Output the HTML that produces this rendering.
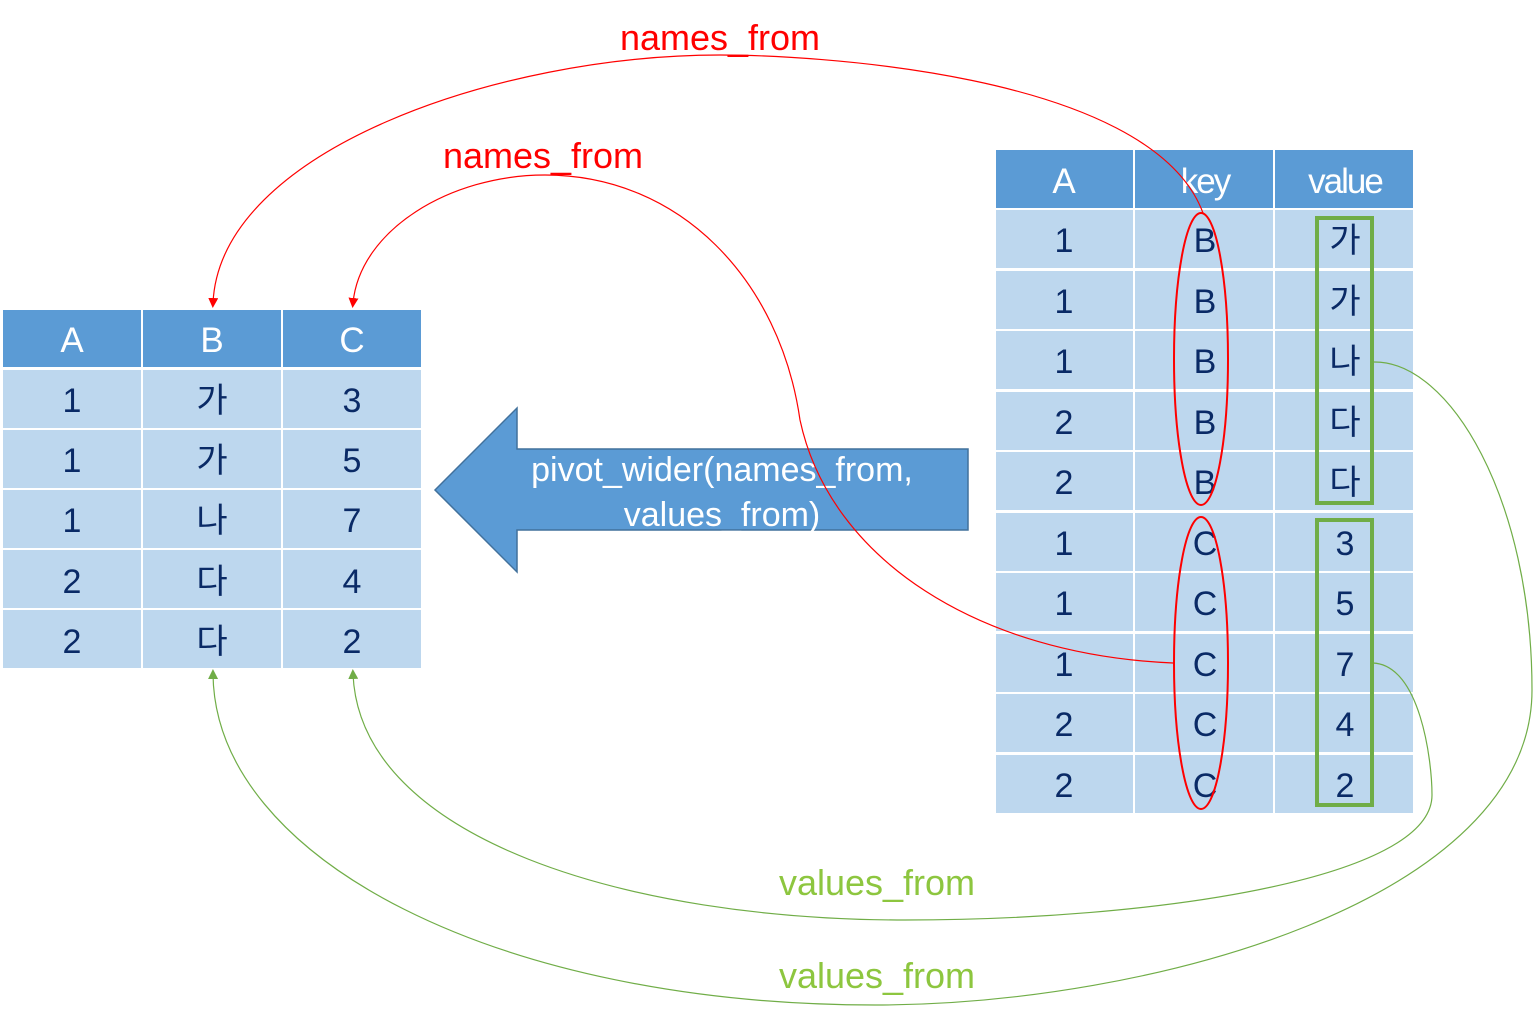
<!DOCTYPE html>
<html><head><meta charset="utf-8"><style>
html,body{margin:0;padding:0;background:#fff;}
svg{display:block;}
text{font-family:"Liberation Sans","Noto Sans CJK KR",sans-serif;}
</style></head><body>
<svg width="1533" height="1020" viewBox="0 0 1533 1020" xmlns="http://www.w3.org/2000/svg">
<defs>
<marker id="ar" markerWidth="10" markerHeight="10" refX="5" refY="5" orient="auto" markerUnits="userSpaceOnUse"><path d="M0,0 L10,5 L0,10 z" fill="#ff0000"/></marker>
<marker id="ag" markerWidth="10" markerHeight="10" refX="5" refY="5" orient="auto" markerUnits="userSpaceOnUse"><path d="M0,0 L10,5 L0,10 z" fill="#70ad47"/></marker>
</defs>
<g id="left">
<rect x="3" y="310" width="138" height="57" fill="#5b9bd5"/>
<rect x="143" y="310" width="138" height="57" fill="#5b9bd5"/>
<rect x="283" y="310" width="138" height="57" fill="#5b9bd5"/>
<g fill="#bdd7ee">
<rect x="3" y="370" width="138" height="58"/><rect x="143" y="370" width="138" height="58"/><rect x="283" y="370" width="138" height="58"/>
<rect x="3" y="430" width="138" height="58"/><rect x="143" y="430" width="138" height="58"/><rect x="283" y="430" width="138" height="58"/>
<rect x="3" y="490" width="138" height="58"/><rect x="143" y="490" width="138" height="58"/><rect x="283" y="490" width="138" height="58"/>
<rect x="3" y="550" width="138" height="58"/><rect x="143" y="550" width="138" height="58"/><rect x="283" y="550" width="138" height="58"/>
<rect x="3" y="610" width="138" height="58"/><rect x="143" y="610" width="138" height="58"/><rect x="283" y="610" width="138" height="58"/>
</g>
<g font-size="35" text-anchor="middle" fill="#fff">
<text x="72" y="352">A</text><text x="212" y="352">B</text><text x="352" y="352">C</text>
</g>
<g font-size="34" text-anchor="middle" fill="#0a2a66">
<text x="72" y="412">1</text><text x="212" y="412">가</text><text x="352" y="412">3</text>
<text x="72" y="472">1</text><text x="212" y="472">가</text><text x="352" y="472">5</text>
<text x="72" y="532">1</text><text x="212" y="532">나</text><text x="352" y="532">7</text>
<text x="72" y="593">2</text><text x="212" y="593">다</text><text x="352" y="593">4</text>
<text x="72" y="653">2</text><text x="212" y="653">다</text><text x="352" y="653">2</text>
</g>
</g>
<g id="right">
<rect x="996" y="150" width="137" height="58" fill="#5b9bd5"/>
<rect x="1135" y="150" width="138" height="58" fill="#5b9bd5"/>
<rect x="1275" y="150" width="138" height="58" fill="#5b9bd5"/>
<g fill="#bdd7ee">
<rect x="996" y="210" width="137" height="58"/><rect x="1135" y="210" width="138" height="58"/><rect x="1275" y="210" width="138" height="58"/>
<rect x="996" y="271" width="137" height="58"/><rect x="1135" y="271" width="138" height="58"/><rect x="1275" y="271" width="138" height="58"/>
<rect x="996" y="331" width="137" height="58"/><rect x="1135" y="331" width="138" height="58"/><rect x="1275" y="331" width="138" height="58"/>
<rect x="996" y="392" width="137" height="58"/><rect x="1135" y="392" width="138" height="58"/><rect x="1275" y="392" width="138" height="58"/>
<rect x="996" y="452" width="137" height="58"/><rect x="1135" y="452" width="138" height="58"/><rect x="1275" y="452" width="138" height="58"/>
<rect x="996" y="513" width="137" height="58"/><rect x="1135" y="513" width="138" height="58"/><rect x="1275" y="513" width="138" height="58"/>
<rect x="996" y="573" width="137" height="58"/><rect x="1135" y="573" width="138" height="58"/><rect x="1275" y="573" width="138" height="58"/>
<rect x="996" y="634" width="137" height="58"/><rect x="1135" y="634" width="138" height="58"/><rect x="1275" y="634" width="138" height="58"/>
<rect x="996" y="694" width="137" height="58"/><rect x="1135" y="694" width="138" height="58"/><rect x="1275" y="694" width="138" height="58"/>
<rect x="996" y="755" width="137" height="58"/><rect x="1135" y="755" width="138" height="58"/><rect x="1275" y="755" width="138" height="58"/>
</g>
<g font-size="35" text-anchor="middle" fill="#fff">
<text x="1064" y="193">A</text><text x="1205" y="193" letter-spacing="-2">key</text><text x="1345" y="193" letter-spacing="-2">value</text>
</g>
<g font-size="34" text-anchor="middle" fill="#0a2a66">
<text x="1064" y="252">1</text><text x="1205" y="252">B</text><text x="1345" y="252">가</text>
<text x="1064" y="313">1</text><text x="1205" y="313">B</text><text x="1345" y="313">가</text>
<text x="1064" y="373">1</text><text x="1205" y="373">B</text><text x="1345" y="373">나</text>
<text x="1064" y="434">2</text><text x="1205" y="434">B</text><text x="1345" y="434">다</text>
<text x="1064" y="494">2</text><text x="1205" y="494">B</text><text x="1345" y="494">다</text>
<text x="1064" y="555">1</text><text x="1205" y="555">C</text><text x="1345" y="555">3</text>
<text x="1064" y="615">1</text><text x="1205" y="615">C</text><text x="1345" y="615">5</text>
<text x="1064" y="676">1</text><text x="1205" y="676">C</text><text x="1345" y="676">7</text>
<text x="1064" y="736">2</text><text x="1205" y="736">C</text><text x="1345" y="736">4</text>
<text x="1064" y="797">2</text><text x="1205" y="797">C</text><text x="1345" y="797">2</text>
</g>
</g>
<ellipse cx="1201" cy="359" rx="27" ry="146" fill="none" stroke="#ff0000" stroke-width="2"/>
<ellipse cx="1201" cy="663" rx="27" ry="146" fill="none" stroke="#ff0000" stroke-width="2"/>
<rect x="1317" y="218" width="55" height="285" fill="none" stroke="#70ad47" stroke-width="4"/>
<rect x="1317" y="520" width="55" height="285" fill="none" stroke="#70ad47" stroke-width="4"/>
<polygon points="435,490 517,408 517,449 968,449 968,530 517,530 517,572" fill="#5b9bd5" stroke="#41719c" stroke-width="1.5"/>
<text x="722" y="481" font-size="34" fill="#fff" text-anchor="middle">pivot_wider(names_from,</text>
<text x="722" y="526" font-size="34" fill="#fff" text-anchor="middle">values_from)</text>
<path d="M1203,213 C1150,70 800,55 720,55 C500,55 220,150 213,303" fill="none" stroke="#ff0000" stroke-width="1.2" marker-end="url(#ar)"/>
<path d="M1173,663 C980,655 830,560 800,420 C780,280 680,175 545,175 C450,175 360,230 353,303" fill="none" stroke="#ff0000" stroke-width="1.2" marker-end="url(#ar)"/>
<path d="M1373,362 C1450,360 1532,500 1532,690 C1532,900 1150,1005 875,1005 C500,1005 215,860 213,674" fill="none" stroke="#70ad47" stroke-width="1.2" marker-end="url(#ag)"/>
<path d="M1373,663 C1420,665 1432,760 1432,795 C1432,880 1150,920 905,920 C630,920 360,840 353,674" fill="none" stroke="#70ad47" stroke-width="1.2" marker-end="url(#ag)"/>
<text x="720" y="50" font-size="36" fill="#ff0000" text-anchor="middle">names_from</text>
<text x="543" y="168" font-size="36" fill="#ff0000" text-anchor="middle">names_from</text>
<text x="877" y="895" font-size="36" fill="#8dc63f" text-anchor="middle">values_from</text>
<text x="877" y="988" font-size="36" fill="#8dc63f" text-anchor="middle">values_from</text>
</svg>
</body></html>
